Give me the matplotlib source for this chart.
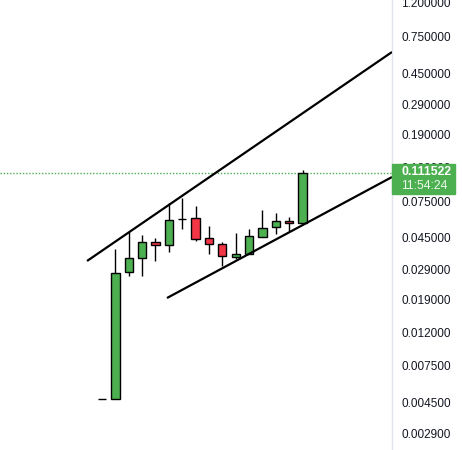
import matplotlib.pyplot as plt
import numpy as np

# OHLC values (log price scale)
opens = [0.00473, 0.00473, 0.02791, 0.03395, 0.04245, 0.04071, 0.05853, 0.05935,
         0.04490, 0.04127, 0.03442, 0.03589, 0.04552, 0.05236, 0.05692, 0.05534]
highs = [0.00473, 0.03849, 0.04882, 0.04681, 0.04490, 0.07325, 0.07852, 0.07024,
         0.05309, 0.04245, 0.04815, 0.05089, 0.06642, 0.06368, 0.06020, 0.1161]
lows = [0.00473, 0.00473, 0.02638, 0.02638, 0.03255, 0.03691, 0.05089, 0.04305,
        0.03589, 0.03035, 0.03347, 0.03589, 0.04552, 0.04747, 0.04952, 0.05534]
closes = [0.00473, 0.02753, 0.03395, 0.04245, 0.04071, 0.05773, 0.05853, 0.04427,
          0.04127, 0.03491, 0.03589, 0.04616, 0.05161, 0.05692, 0.05534, 0.111522]

# trend channel anchors (bar index, price)
upper_x = [-1.12, 21.69]
upper_y = [0.03255, 0.6046]
lower_x = [4.86, 21.69]
lower_y = [0.01940, 0.1053]

tick_values = [1.2, 0.75, 0.45, 0.29, 0.19, 0.12, 0.075, 0.045, 0.029,
               0.019, 0.012, 0.0075, 0.0045, 0.0029]
last_price = 0.111522
countdown = "11:54:24"

GREEN = "#4caf50"
RED = "#f23645"

fig = plt.figure(figsize=(4.62, 4.5), dpi=100)
ax = fig.add_axes([0, 0, 392 / 462, 1])

x = np.arange(len(opens))
opens_a = np.array(opens)
closes_a = np.array(closes)
up = closes_a >= opens_a
colors = [GREEN if u else RED for u in up]
bottoms = np.minimum(opens_a, closes_a)
heights = np.abs(closes_a - opens_a)

ax.vlines(x, lows, highs, color="black", lw=1.0, zorder=2)
ax.bar(x, heights, bottom=bottoms, width=0.62, color=colors,
       edgecolor="black", linewidth=1.0, zorder=3)

ax.plot(upper_x, upper_y, color="black", lw=1.6, solid_capstyle="butt", zorder=4)
ax.plot(lower_x, lower_y, color="black", lw=1.6, solid_capstyle="butt", zorder=4)

ax.axhline(last_price, color=GREEN, lw=1.0, ls=(0, (1, 1.3)), zorder=1)

ax.set_yscale("log")
ax.set_ylim(0.002317, 1.251)
ax.set_xlim(-7.63, 21.69)

ax.yaxis.tick_right()
ax.set_yticks(tick_values)
ax.set_yticklabels([f"{v:.6f}" for v in tick_values])
ax.yaxis.set_minor_locator(plt.NullLocator())
ax.tick_params(axis="y", length=0, pad=6.5, labelsize=8.5, labelcolor="#131722")
for lbl in ax.get_yticklabels():
    lbl.set_family("Liberation Sans")
ax.set_xticks([])

for side in ["top", "bottom", "left"]:
    ax.spines[side].set_visible(False)
ax.spines["right"].set_color("#e0e3eb")
ax.spines["right"].set_linewidth(1.0)

# last price badge over the axis
fig.patches.append(plt.Rectangle((392 / 462, 1 - 194 / 450), 63 / 462, 30 / 450,
                                 transform=fig.transFigure, color=GREEN, zorder=5))
fig.text(401 / 462, 1 - 172 / 450, f"{last_price:.6f}", color="white", va="center",
         fontsize=8.8, fontweight="bold", family="Liberation Sans", zorder=6)
fig.text(401 / 462, 1 - 186 / 450, countdown, color="#eef8ee", va="center",
         fontsize=8.8, family="Liberation Sans", zorder=6)

fig.savefig("out.png", dpi=100)
